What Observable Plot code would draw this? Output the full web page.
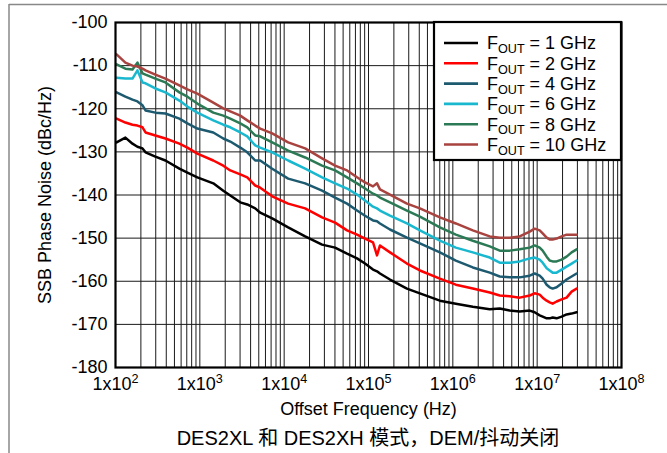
<!DOCTYPE html>
<html><head><meta charset="utf-8">
<script src="https://cdn.jsdelivr.net/npm/d3@7"></script>
<script src="https://cdn.jsdelivr.net/npm/@observablehq/plot@0.6"></script>
<style>
html,body{margin:0;padding:0;background:#fff;}
#chart{width:667px;height:453px;}
</style></head><body><div id="chart"></div>
<script>
const FONT = "Arial, 'Liberation Sans', 'Noto Sans CJK SC', sans-serif";

// Offset frequency (Hz) sample points
const freqHz = [103, 131, 159, 182, 209, 227, 297, 391, 572, 712,
  934, 1444, 1897, 2296, 3015, 3649, 4538, 5200, 7211, 11150,
  17730, 28150, 40140, 55670, 73110, 90920, 113100, 126100, 136800, 179700,
  285500, 406900, 702000, 1085000, 1725000, 2741000, 3599000, 4727000, 6208000, 8150000,
  9342000, 10710000, 11620000, 12960000, 14060000, 15260000, 17010000, 19500000, 22340000, 25610000,
  29350000];

// SSB phase noise (dBc/Hz) per output frequency
const fout1GHz = [-127.8,-126.7,-128.1,-128.8,-129.2,-130.1,-131.1,-132.0,-133.9,-134.8,
  -135.9,-137.3,-139.0,-140.1,-141.7,-142.2,-143.1,-144.1,-145.4,-147.5,
  -149.6,-151.5,-152.2,-153.6,-154.7,-155.9,-157.3,-157.7,-158.2,-159.6,
  -161.7,-162.8,-164.5,-165.2,-165.9,-166.5,-166.3,-166.8,-167.0,-166.8,
  -167.2,-167.9,-168.2,-168.6,-168.6,-168.4,-168.6,-168.2,-167.7,-167.5,
  -167.2];
const fout2GHz = [-122.3,-123.2,-123.7,-123.9,-124.3,-125.5,-126.2,-126.9,-128.1,-129.0,
  -130.4,-132.0,-133.2,-134.3,-135.2,-135.9,-137.8,-138.3,-140.3,-142.0,
  -143.1,-145.2,-146.4,-148.2,-149.2,-150.1,-151.0,-154.0,-151.7,-153.3,
  -155.9,-157.5,-159.4,-160.8,-161.7,-162.6,-163.3,-163.5,-163.8,-163.3,
  -162.8,-163.1,-163.8,-164.5,-164.9,-165.2,-164.7,-164.2,-163.8,-162.4,
  -161.7];
const fout4GHz = [-116.2,-117.2,-117.9,-118.3,-119.2,-120.4,-120.9,-121.1,-122.3,-123.4,
  -124.6,-125.5,-126.9,-127.6,-129.0,-130.1,-132.0,-132.0,-133.9,-136.2,
  -137.3,-139.0,-140.6,-142.0,-143.6,-144.8,-145.9,-146.1,-146.6,-148.0,
  -149.9,-151.2,-153.3,-155.2,-156.8,-158.0,-158.9,-159.1,-159.1,-158.7,
  -158.2,-158.7,-159.4,-160.8,-161.4,-161.7,-161.4,-160.5,-159.6,-158.9,
  -158.2];
const fout6GHz = [-112.8,-113.0,-113.0,-111.1,-113.9,-114.1,-115.3,-116.2,-118.1,-119.5,
  -120.9,-122.7,-123.7,-124.3,-125.5,-126.4,-128.5,-129.0,-130.1,-132.0,
  -133.9,-135.9,-137.3,-138.5,-139.9,-141.3,-142.7,-143.1,-143.6,-144.8,
  -146.6,-148.2,-150.6,-152.2,-153.3,-154.5,-155.7,-155.7,-155.4,-154.7,
  -154.5,-155.0,-155.7,-157.0,-157.5,-158.0,-158.0,-157.3,-156.6,-155.9,
  -155.2];
const fout8GHz = [-109.7,-110.7,-110.9,-109.3,-111.8,-112.1,-113.0,-113.9,-116.2,-117.2,
  -118.8,-120.9,-121.6,-122.3,-123.4,-124.3,-126.2,-126.4,-127.8,-129.7,
  -131.3,-133.2,-134.3,-135.9,-137.3,-138.5,-139.7,-140.1,-140.6,-141.7,
  -143.6,-145.0,-147.5,-149.2,-150.6,-151.9,-152.9,-152.9,-152.6,-152.2,
  -151.7,-152.2,-152.9,-154.3,-155.2,-155.4,-155.4,-155.0,-154.3,-153.3,
  -152.6];
const fout10GHz = [-107.4,-109.3,-110.0,-110.2,-110.7,-111.1,-112.1,-113.0,-114.6,-115.5,
  -116.5,-118.6,-119.9,-120.6,-121.6,-122.7,-123.9,-124.6,-125.7,-127.8,
  -129.2,-131.5,-133.2,-134.3,-135.9,-137.1,-138.0,-137.3,-138.7,-139.9,
  -142.0,-143.1,-145.2,-146.6,-148.2,-149.6,-149.9,-149.9,-149.6,-148.5,
  -147.8,-148.2,-148.9,-149.9,-150.3,-150.3,-150.1,-149.6,-149.2,-149.2,
  -149.2];

const seriesValues = [fout1GHz, fout2GHz, fout4GHz, fout6GHz, fout8GHz, fout10GHz];
const seriesLabels = ["1 GHz", "2 GHz", "4 GHz", "6 GHz", "8 GHz", "10 GHz"];
const seriesColors = ["#000000", "#ff0000", "#1d5a70", "#19b8cf", "#2c7a55", "#a8433f"];

const yTicks = [-180, -170, -160, -150, -140, -130, -120, -110, -100];
const xTicks = [1e2, 1e3, 1e4, 1e5, 1e6, 1e7, 1e8];
const xTickExponents = ["2", "3", "4", "5", "6", "7", "8"];

// log grid lines: 1..9 x each decade
const xGrid = [];
xTicks.forEach((d, i) => {
  if (i < xTicks.length - 1) for (let m = 1; m <= 9; m++) xGrid.push(m * d);
  else xGrid.push(d);
});

const lineMarks = seriesValues.map((vals, i) =>
  Plot.line(freqHz.map((f, j) => ({f, db: vals[j]})), {
    x: "f", y: "db", stroke: seriesColors[i], strokeWidth: 2.5,
    strokeLinejoin: "round", strokeLinecap: "round"
  })
);

const plot = Plot.plot({
  width: 667, height: 453,
  marginLeft: 115, marginRight: 46, marginTop: 22, marginBottom: 86,
  style: {fontFamily: FONT, fontSize: "18px", color: "#000", background: "#fff", overflow: "visible"},
  x: {type: "log", domain: [1e2, 1e8]},
  y: {domain: [-180, -100]},
  marks: [
    Plot.ruleX(xGrid, {stroke: "#1a1a1a", strokeWidth: 1}),
    Plot.ruleY(yTicks, {stroke: "#1a1a1a", strokeWidth: 1}),
    ...lineMarks,
    Plot.frame({stroke: "#000", strokeWidth: 2.2}),
    Plot.axisX(xTicks, {
      tickSize: 0, tickPadding: 10, fontSize: 18,
      tickFormat: (d) => "1x10^" + xTickExponents[xTicks.indexOf(d)],
      label: "Offset Frequency (Hz)", labelAnchor: "center", labelArrow: "none", labelOffset: 47
    }),
    Plot.axisY(yTicks, {
      tickSize: 0, tickPadding: 8, fontSize: 18,
      tickFormat: (d) => String(d),
      label: "SSB Phase Noise (dBc/Hz)", labelAnchor: "center", labelArrow: "none", labelOffset: 77
    })
  ]
});

document.getElementById("chart").appendChild(plot);
const svg = d3.select(plot);

// superscript exponents on x tick labels
svg.selectAll('g[aria-label="x-axis tick label"] text').each(function () {
  const t = this.textContent;
  const parts = t.split("^");
  const sel = d3.select(this);
  sel.text(null);
  sel.append("tspan").text(parts[0]);
  sel.append("tspan").attr("dy", "-0.55em").attr("font-size", "0.7em").text(parts[1]);
});

// legend box
const lg = svg.append("g").attr("font-family", FONT).attr("font-size", 18).attr("text-anchor", "start");
lg.append("rect").attr("x", 434).attr("y", 22).attr("width", 187).attr("height", 138)
  .attr("fill", "#fff").attr("stroke", "#000").attr("stroke-width", 2.2);
seriesLabels.forEach((lab, i) => {
  const y = 43 + i * 20.3;
  lg.append("line").attr("x1", 444).attr("x2", 478).attr("y1", y).attr("y2", y)
    .attr("stroke", seriesColors[i]).attr("stroke-width", 2.6);
  const t = lg.append("text").attr("x", 487).attr("y", y).attr("dy", "0.36em")
    .attr("text-anchor", "start").attr("fill", "#000");
  t.append("tspan").text("F");
  t.append("tspan").attr("dy", "0.3em").attr("font-size", "0.7em").text("OUT");
  t.append("tspan").attr("dy", "-0.21em").text(" = " + lab);
});

// outer border of the figure
svg.append("line").attr("x1", 9).attr("x2", 667).attr("y1", 4.5).attr("y2", 4.5).attr("stroke", "#888").attr("stroke-width", 1.5);
svg.append("line").attr("x1", 9).attr("x2", 9).attr("y1", 4).attr("y2", 453).attr("stroke", "#888").attr("stroke-width", 1.5);

// caption
svg.append("text").attr("x", 368).attr("y", 438).attr("dy", "0.35em").attr("text-anchor", "middle")
  .attr("font-family", FONT).attr("font-size", 20).attr("fill", "#000")
  .text("DES2XL 和 DES2XH 模式，DEM/抖动关闭");
</script>
</body></html>
